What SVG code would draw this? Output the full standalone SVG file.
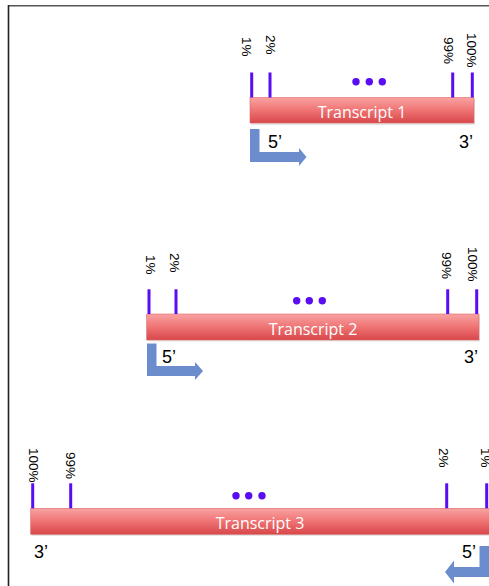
<svg xmlns="http://www.w3.org/2000/svg" width="489" height="586" viewBox="0 0 489 586">
<defs>
<linearGradient id="barGrad" x1="0" y1="0" x2="0" y2="1">
<stop offset="0" stop-color="#f9a3a3"/>
<stop offset="0.5" stop-color="#ef7373"/>
<stop offset="1" stop-color="#d8474a"/>
</linearGradient>
</defs>
<style>
.bar{fill:url(#barGrad);stroke:#d96a6a;stroke-width:0.6}
.shadow{fill:#000;opacity:0.1}
.name{font-family:"Open Sans","Liberation Sans",sans-serif;font-size:16px;fill:#fff;text-anchor:middle}
.tick{stroke:#5a0cf2;stroke-width:3}
.dot{fill:#5a0cf2}
.pct{font-family:"Liberation Sans",Arial,sans-serif;font-size:13.5px;fill:#000}
.end{font-family:"Liberation Sans",Arial,sans-serif;font-size:18px;fill:#000}
.arrow{fill:#6c8dcd}
</style>
<rect x="0" y="0" width="489" height="586" fill="#fff"/>
<line x1="8" y1="5.7" x2="489" y2="5.7" stroke="#555" stroke-width="1.6"/>
<line x1="8.5" y1="5" x2="8.5" y2="586" stroke="#222" stroke-width="1.6"/>

<g id="transcript1">
<rect class="shadow" x="251" y="99" width="224" height="26"/>
<rect class="bar" x="250" y="97.5" width="224" height="25.5"/>
<text class="name" x="362" y="118">Transcript 1</text>
<line class="tick" x1="251.7" y1="72.5" x2="251.7" y2="97.5"/>
<line class="tick" x1="270" y1="72.5" x2="270" y2="97.5"/>
<line class="tick" x1="452.7" y1="72.5" x2="452.7" y2="97.5"/>
<line class="tick" x1="472.3" y1="72.5" x2="472.3" y2="97.5"/>
<circle class="dot" cx="356" cy="81.7" r="3.7"/>
<circle class="dot" cx="369.3" cy="81.7" r="3.7"/>
<circle class="dot" cx="382.3" cy="81.7" r="3.7"/>
<text class="pct" transform="translate(242,37) rotate(90)">1%</text>
<text class="pct" transform="translate(265.5,35) rotate(90)">2%</text>
<text class="pct" transform="translate(443.5,37) rotate(90)">99%</text>
<text class="pct" transform="translate(467,33) rotate(90)">100%</text>
<text class="end" x="268" y="148">5’</text>
<text class="end" x="459" y="148">3’</text>
<path class="arrow" d="M250,129 H259.5 V152 H299 V148 L306.5,157 L299,166 V162 H250 Z"/>
</g>

<g id="transcript2">
<rect class="shadow" x="147.7" y="315.5" width="332.3" height="26"/>
<rect class="bar" x="146.7" y="314" width="332.3" height="26"/>
<text class="name" x="313" y="334.5">Transcript 2</text>
<line class="tick" x1="149" y1="289.3" x2="149" y2="314"/>
<line class="tick" x1="176" y1="289.3" x2="176" y2="314"/>
<line class="tick" x1="447.7" y1="289.3" x2="447.7" y2="314"/>
<line class="tick" x1="476.7" y1="289.3" x2="476.7" y2="314"/>
<circle class="dot" cx="296.7" cy="300.7" r="3.7"/>
<circle class="dot" cx="309.3" cy="300.7" r="3.7"/>
<circle class="dot" cx="322.3" cy="300.7" r="3.7"/>
<text class="pct" transform="translate(145.5,255) rotate(90)">1%</text>
<text class="pct" transform="translate(170,253) rotate(90)">2%</text>
<text class="pct" transform="translate(442,252) rotate(90)">99%</text>
<text class="pct" transform="translate(468,247) rotate(90)">100%</text>
<text class="end" x="162" y="363">5’</text>
<text class="end" x="464" y="363">3’</text>
<path class="arrow" d="M147,343.5 H156.5 V366 H195 V362 L203,371 L195,380 V376 H147 Z"/>
</g>

<g id="transcript3">
<rect class="shadow" x="31.7" y="510" width="460" height="26"/>
<rect class="bar" x="30.7" y="508.3" width="460" height="26"/>
<text class="name" x="260" y="529">Transcript 3</text>
<line class="tick" x1="32.7" y1="483.3" x2="32.7" y2="508.3"/>
<line class="tick" x1="70.7" y1="483.3" x2="70.7" y2="508.3"/>
<line class="tick" x1="446.7" y1="483.3" x2="446.7" y2="508.3"/>
<line class="tick" x1="486.7" y1="483.3" x2="486.7" y2="508.3"/>
<circle class="dot" cx="236" cy="495.7" r="3.7"/>
<circle class="dot" cx="248.7" cy="495.7" r="3.7"/>
<circle class="dot" cx="262" cy="495.7" r="3.7"/>
<text class="pct" transform="translate(28.5,448) rotate(90)">100%</text>
<text class="pct" transform="translate(65.5,452) rotate(90)">99%</text>
<text class="pct" transform="translate(438.5,448) rotate(90)">2%</text>
<text class="pct" transform="translate(480.5,448) rotate(90)">1%</text>
<text class="end" x="34" y="558">3’</text>
<text class="end" x="462" y="558">5’</text>
<path class="arrow" d="M490,546 H479.5 V567 H454 V560.5 L445,572 L454,583.5 V577 H490 Z"/>
</g>
</svg>
